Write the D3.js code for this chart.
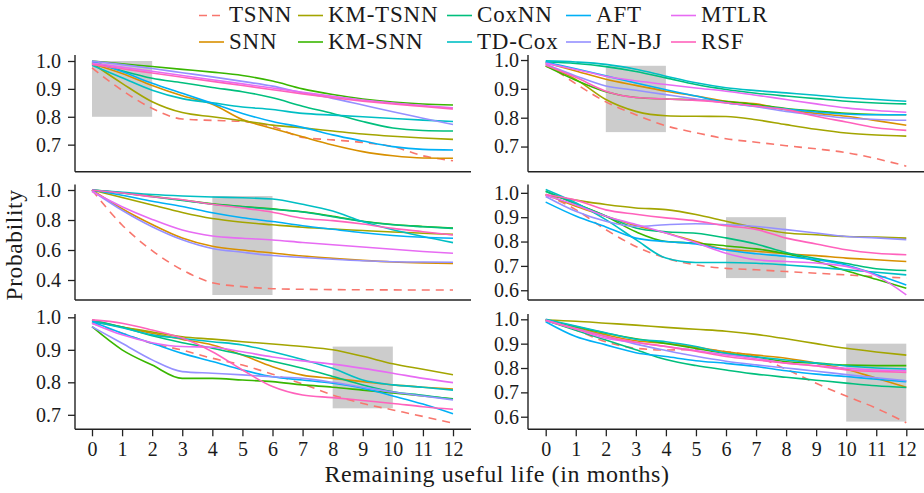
<!DOCTYPE html>
<html>
<head>
<meta charset="utf-8">
<script src="https://cdn.jsdelivr.net/npm/d3@7"></script>
<style>
  body { margin: 0; background: #fff; }
  text { font-family: "Liberation Serif", "DejaVu Serif", serif; fill: #1a1a1a; }
</style>
</head>
<body>
<div id="chart"></div>
<script>
// months on the x axis
const months = [0, 1, 2, 3, 4, 5, 6, 7, 8, 9, 10, 11, 12];

// series names, in legend order
const models = ["TSNN", "SNN", "KM-TSNN", "KM-SNN", "CoxNN", "TD-Cox", "AFT", "EN-BJ", "MTLR", "RSF"];
const colors = ["#F8766D", "#D89000", "#A3A500", "#39B600", "#00BF7D", "#00BFC4", "#00B0F6", "#9590FF", "#E76BF3", "#FF62BC"];

// one array per model, same order as `models`
const topLeft = [
  [0.975, 0.895, 0.83, 0.792, 0.787, 0.783, 0.765, 0.726, 0.717, 0.708, 0.693, 0.66, 0.642],
  [0.99, 0.955, 0.912, 0.875, 0.845, 0.79, 0.758, 0.728, 0.699, 0.675, 0.66, 0.652, 0.651],
  [0.992, 0.92, 0.854, 0.815, 0.80, 0.786, 0.77, 0.76, 0.749, 0.738, 0.73, 0.724, 0.719],
  [1.0, 0.99, 0.98, 0.97, 0.96, 0.948, 0.928, 0.9, 0.88, 0.864, 0.853, 0.846, 0.842],
  [0.997, 0.965, 0.938, 0.922, 0.905, 0.89, 0.868, 0.838, 0.812, 0.783, 0.76, 0.751, 0.749],
  [0.985, 0.94, 0.895, 0.865, 0.85, 0.835, 0.826, 0.812, 0.806, 0.8, 0.794, 0.788, 0.783],
  [0.998, 0.962, 0.92, 0.884, 0.848, 0.812, 0.783, 0.762, 0.735, 0.713, 0.693, 0.683, 0.681],
  [1.0, 0.987, 0.973, 0.958, 0.943, 0.927, 0.91, 0.886, 0.866, 0.842, 0.818, 0.795, 0.772],
  [0.993, 0.978, 0.963, 0.948, 0.933, 0.918, 0.903, 0.888, 0.873, 0.86, 0.849, 0.84, 0.832],
  [0.988, 0.972, 0.957, 0.942, 0.927, 0.912, 0.897, 0.882, 0.868, 0.856, 0.846, 0.837, 0.828]
];
const topRight = [
  [0.988, 0.918, 0.855, 0.81, 0.772, 0.748, 0.727, 0.715, 0.703, 0.692, 0.679, 0.658, 0.632],
  [0.991, 0.962, 0.933, 0.912, 0.892, 0.875, 0.857, 0.848, 0.828, 0.815, 0.805, 0.79, 0.774],
  [0.979, 0.933, 0.863, 0.822, 0.807, 0.805, 0.804, 0.793, 0.776, 0.76, 0.747, 0.74, 0.736],
  [0.979, 0.93, 0.89, 0.87, 0.865, 0.862, 0.856, 0.845, 0.832, 0.823, 0.815, 0.811, 0.81],
  [0.993, 0.988, 0.977, 0.96, 0.938, 0.915, 0.898, 0.885, 0.875, 0.866, 0.857, 0.851, 0.848],
  [0.997, 0.993, 0.985, 0.968, 0.944, 0.921, 0.904, 0.894, 0.886, 0.878, 0.869, 0.863, 0.857],
  [0.993, 0.97, 0.945, 0.92, 0.897, 0.875, 0.852, 0.84, 0.83, 0.82, 0.813, 0.81, 0.81],
  [0.985, 0.945, 0.91, 0.895, 0.88, 0.865, 0.851, 0.838, 0.822, 0.81, 0.799, 0.794, 0.791],
  [0.989, 0.967, 0.944, 0.928, 0.915, 0.903, 0.892, 0.878, 0.863, 0.848, 0.834, 0.825, 0.819],
  [0.982, 0.94, 0.892, 0.87, 0.865, 0.86, 0.852, 0.84, 0.828, 0.805, 0.785, 0.765, 0.756]
];
const midLeft = [
  [1.0, 0.767, 0.596, 0.467, 0.382, 0.356, 0.342, 0.338, 0.336, 0.335, 0.334, 0.333, 0.333],
  [1.0, 0.875, 0.77, 0.68, 0.625, 0.6, 0.58, 0.56, 0.545, 0.531, 0.52, 0.514, 0.511],
  [1.0, 0.95, 0.9, 0.85, 0.81, 0.785, 0.768, 0.752, 0.74, 0.73, 0.72, 0.712, 0.704],
  [1.0, 0.982, 0.958, 0.933, 0.908, 0.89, 0.874, 0.855, 0.825, 0.792, 0.77, 0.757, 0.747],
  [1.0, 0.98, 0.955, 0.93, 0.905, 0.888, 0.872, 0.853, 0.822, 0.79, 0.768, 0.755, 0.744],
  [1.0, 0.985, 0.97, 0.96, 0.953, 0.948, 0.94, 0.905, 0.86, 0.79, 0.735, 0.69, 0.649],
  [1.0, 0.965, 0.925, 0.89, 0.848, 0.815, 0.79, 0.762, 0.738, 0.715, 0.697, 0.685, 0.678],
  [0.995, 0.865, 0.755, 0.668, 0.61, 0.585, 0.563, 0.55, 0.538, 0.528, 0.522, 0.52, 0.518],
  [0.99, 0.889, 0.804, 0.733, 0.693, 0.678, 0.667, 0.65, 0.635, 0.62, 0.605, 0.59, 0.578],
  [1.0, 0.98, 0.955, 0.935, 0.905, 0.88, 0.852, 0.812, 0.796, 0.773, 0.744, 0.722, 0.70]
];
const midRight = [
  [0.993, 0.931, 0.849, 0.78, 0.732, 0.704, 0.69, 0.684, 0.677, 0.67, 0.663, 0.656, 0.65],
  [0.993, 0.945, 0.904, 0.865, 0.835, 0.80, 0.768, 0.76, 0.75, 0.742, 0.732, 0.725, 0.718],
  [0.99, 0.97, 0.952, 0.938, 0.931, 0.911, 0.883, 0.856, 0.835, 0.828, 0.821, 0.818, 0.814],
  [1.007, 0.955, 0.904, 0.84, 0.80, 0.793, 0.782, 0.77, 0.75, 0.72, 0.68, 0.645, 0.608],
  [1.005, 0.955, 0.905, 0.856, 0.84, 0.834, 0.815, 0.79, 0.755, 0.73, 0.71, 0.688, 0.681],
  [1.014, 0.959, 0.89, 0.808, 0.732, 0.714, 0.714, 0.711, 0.704, 0.695, 0.684, 0.674, 0.663],
  [0.962, 0.905, 0.86, 0.814, 0.80, 0.79, 0.765, 0.75, 0.739, 0.725, 0.704, 0.665, 0.622],
  [0.985, 0.924, 0.883, 0.862, 0.869, 0.873, 0.869, 0.862, 0.849, 0.835, 0.821, 0.815, 0.808],
  [0.99, 0.95, 0.904, 0.87, 0.835, 0.795, 0.752, 0.725, 0.718, 0.712, 0.698, 0.66, 0.581],
  [0.993, 0.97, 0.93, 0.912, 0.897, 0.885, 0.865, 0.85, 0.814, 0.79, 0.766, 0.752, 0.746]
];
const bottomLeft = [
  [0.982, 0.951, 0.92, 0.899, 0.874, 0.853, 0.825, 0.795, 0.761, 0.735, 0.715, 0.695, 0.674],
  [0.992, 0.97, 0.951, 0.932, 0.915, 0.884, 0.848, 0.822, 0.812, 0.802, 0.792, 0.785, 0.779],
  [0.987, 0.97, 0.955, 0.94, 0.933, 0.925, 0.918, 0.91, 0.9, 0.88, 0.857, 0.84, 0.823],
  [0.971, 0.9, 0.853, 0.812, 0.812, 0.807, 0.802, 0.792, 0.785, 0.776, 0.767, 0.758, 0.749],
  [0.992, 0.97, 0.943, 0.922, 0.905, 0.885, 0.865, 0.843, 0.818, 0.792, 0.771, 0.76, 0.748],
  [0.987, 0.968, 0.946, 0.935, 0.925, 0.915, 0.894, 0.87, 0.843, 0.807, 0.792, 0.785, 0.776],
  [0.987, 0.951, 0.92, 0.889, 0.864, 0.838, 0.817, 0.807, 0.797, 0.782, 0.758, 0.733, 0.703],
  [0.971, 0.92, 0.869, 0.833, 0.828, 0.823, 0.817, 0.812, 0.8, 0.785, 0.77, 0.758, 0.746],
  [0.982, 0.946, 0.922, 0.91, 0.908, 0.894, 0.878, 0.866, 0.856, 0.843, 0.828, 0.812, 0.799],
  [0.992, 0.982, 0.961, 0.936, 0.894, 0.838, 0.787, 0.761, 0.753, 0.744, 0.735, 0.725, 0.717]
];
const bottomRight = [
  [0.997, 0.956, 0.908, 0.881, 0.874, 0.877, 0.867, 0.847, 0.795, 0.737, 0.685, 0.635, 0.575],
  [0.995, 0.965, 0.936, 0.912, 0.901, 0.885, 0.867, 0.853, 0.84, 0.82, 0.795, 0.758, 0.721],
  [0.997, 0.992, 0.984, 0.976, 0.967, 0.959, 0.951, 0.938, 0.92, 0.9, 0.881, 0.866, 0.853],
  [0.997, 0.97, 0.943, 0.92, 0.901, 0.88, 0.86, 0.845, 0.826, 0.82, 0.812, 0.81, 0.81],
  [0.995, 0.955, 0.915, 0.875, 0.835, 0.81, 0.792, 0.775, 0.762, 0.75, 0.738, 0.727, 0.72],
  [1.0, 0.972, 0.945, 0.918, 0.908, 0.888, 0.86, 0.845, 0.833, 0.82, 0.808, 0.8, 0.796],
  [0.99, 0.929, 0.895, 0.863, 0.847, 0.83, 0.819, 0.806, 0.789, 0.775, 0.765, 0.754, 0.744],
  [0.995, 0.962, 0.93, 0.898, 0.872, 0.848, 0.828, 0.813, 0.8, 0.787, 0.773, 0.76, 0.748],
  [0.997, 0.96, 0.922, 0.905, 0.888, 0.872, 0.854, 0.838, 0.82, 0.81, 0.799, 0.792, 0.789],
  [0.995, 0.96, 0.929, 0.906, 0.888, 0.869, 0.847, 0.833, 0.82, 0.808, 0.792, 0.786, 0.782]
];

// y tick labels per panel
const yTicksTop = [0.7, 0.8, 0.9, 1.0];
const yTicksMidLeft = [0.4, 0.6, 0.8, 1.0];
const yTicksWide = [0.6, 0.7, 0.8, 0.9, 1.0];
const yTicksBottomLeft = [0.7, 0.8, 0.9, 1.0];

// shaded windows: [month from, month to, prob low, prob high]
const windows = [
  [0, 2, 0.80, 1.00],
  [2, 4, 0.75, 0.98],
  [4, 6, 0.30, 0.96],
  [6, 8, 0.65, 0.90],
  [8, 10, 0.72, 0.91],
  [10, 12, 0.58, 0.90]
];

const W = 924, H = 493;
const svg = d3.select("#chart").append("svg")
  .attr("width", W)
  .attr("height", H);

// column / row geometry
const cols = [
  {axis: 75, x0: 92, x1: 453, end: 471, labelGap: 7},
  {axis: 528, x0: 545.7, x1: 906.3, end: 924, labelGap: 2}
];
const rows = [
  {top: 55, bottom: 171.7},
  {top: 184.5, bottom: 300},
  {top: 314, bottom: 429.3}
];

const panels = [
  {data: topLeft, col: 0, row: 0, dom: [0.603, 1.0215], ticks: yTicksTop, win: windows[0]},
  {data: topRight, col: 1, row: 0, dom: [0.6128, 1.0174], ticks: yTicksTop, win: windows[1]},
  {data: midLeft, col: 0, row: 1, dom: [0.2667, 1.0367], ticks: yTicksMidLeft, win: windows[2]},
  {data: midRight, col: 1, row: 1, dom: [0.56, 1.0342], ticks: yTicksWide, win: windows[3]},
  {data: bottomLeft, col: 0, row: 2, dom: [0.6554, 1.0102], ticks: yTicksBottomLeft, win: windows[4]},
  {data: bottomRight, col: 1, row: 2, dom: [0.5483, 1.0218], ticks: yTicksWide, win: windows[5]}
];

const fmt = d3.format(".1f");

panels.forEach(p => {
  const c = cols[p.col], r = rows[p.row];
  const x = d3.scaleLinear().domain([0, 12]).range([c.x0, c.x1]);
  const y = d3.scaleLinear().domain(p.dom).range([r.bottom, r.top]);
  const g = svg.append("g");

  // grey highlight box
  g.append("rect")
    .attr("x", x(p.win[0]))
    .attr("y", y(p.win[3]))
    .attr("width", x(p.win[1]) - x(p.win[0]))
    .attr("height", y(p.win[2]) - y(p.win[3]))
    .attr("fill", "#cccccc");

  // curves
  const line = d3.line()
    .x((d, i) => x(months[i]))
    .y(d => y(d))
    .curve(d3.curveMonotoneX);

  p.data.forEach((vals, k) => {
    g.append("path")
      .datum(vals)
      .attr("fill", "none")
      .attr("stroke", colors[k])
      .attr("stroke-width", 1.6)
      .attr("stroke-dasharray", models[k] === "TSNN" ? "8,6" : null)
      .attr("d", line);
  });

  // y axis
  const ya = g.append("g")
    .attr("transform", `translate(${c.axis},0)`)
    .call(d3.axisLeft(y).tickValues(p.ticks).tickFormat(fmt).tickSize(7).tickPadding(c.labelGap));
  ya.select(".domain").remove();
  ya.selectAll(".tick line").attr("stroke", "#222").attr("stroke-width", 1.3);
  ya.selectAll(".tick text").style("font-size", "20px").attr("fill", "#1a1a1a");

  // x axis, labelled on the bottom row only
  if (p.row === 2) {
    const xa = g.append("g")
      .attr("transform", `translate(0,${r.bottom})`)
      .call(d3.axisBottom(x).tickValues(months).tickSize(7).tickPadding(6));
    xa.select(".domain").remove();
    xa.selectAll(".tick line").attr("stroke", "#222").attr("stroke-width", 1.3);
    xa.selectAll(".tick text").style("font-size", "20px").attr("fill", "#1a1a1a");
  }

  // axis lines
  g.append("line")
    .attr("x1", c.axis).attr("x2", c.axis)
    .attr("y1", r.top).attr("y2", r.bottom)
    .attr("stroke", "#222").attr("stroke-width", 1.4);
  g.append("line")
    .attr("x1", c.axis).attr("x2", c.end)
    .attr("y1", r.bottom).attr("y2", r.bottom)
    .attr("stroke", "#222").attr("stroke-width", 1.4);
});

// legend
const legendX = [199, 298, 447, 566, 671];
const legendY = [15.5, 42];
const legend = svg.append("g");
models.forEach((m, k) => {
  const lx = legendX[Math.floor(k / 2)];
  const ly = legendY[k % 2];
  legend.append("line")
    .attr("x1", lx).attr("x2", lx + 25)
    .attr("y1", ly).attr("y2", ly)
    .attr("stroke", colors[k])
    .attr("stroke-width", 1.6)
    .attr("stroke-dasharray", m === "TSNN" ? "8,5" : null);
  legend.append("text")
    .attr("x", lx + 30)
    .attr("y", ly + 6.5)
    .style("font-size", "23px")
    .style("letter-spacing", "0.8px")
    .text(m);
});

// axis titles
svg.append("text")
  .attr("x", 497)
  .attr("y", 482)
  .attr("text-anchor", "middle")
  .style("font-size", "24px")
  .style("letter-spacing", "0.6px")
  .text("Remaining useful life (in months)");

svg.append("text")
  .attr("transform", "translate(22,245) rotate(-90)")
  .attr("text-anchor", "middle")
  .style("font-size", "23.5px")
  .style("letter-spacing", "0.6px")
  .text("Probability");
</script>
</body>
</html>
